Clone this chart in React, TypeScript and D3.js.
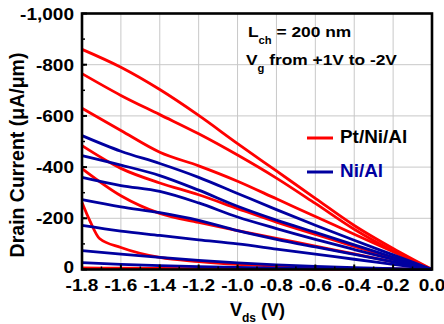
import React from "react";
import * as d3 from "d3";

// ---- data (drain current in µA/µm, Vds in V) ----
const vds = [-1.8, -1.6, -1.4, -1.2, -1.0, -0.8, -0.6, -0.4, -0.2, 0.0];

// Pt/Ni/Al (red), Vg from -2V (top) to +1V (bottom)
const ptVgM2 = [-860, -790, -703, -602, -492, -385, -278, -172, -82, 0];
const ptVgM15 = [-765, -680, -605, -530, -447, -357, -258, -157, -72, 0];
const ptVgM1 = [-630, -543, -458, -405, -345, -276, -207, -138, -69, 0];
const ptVgM05 = [-484, -395, -338, -292, -238, -185, -137, -90, -45, 0];
const ptVg0 = [-394, -288, -219, -184, -152, -122, -91, -61, -30, 0];
const ptVgP05Vds = [-1.8, -1.76, -1.71, -1.6, -1.4, -1.2, -1.0, -0.8, -0.6, -0.4, -0.2, 0.0];
const ptVgP05 = [-262, -191, -121, -86, -47, -31, -20, -13, -8, -4, -2, 0];
const ptVgP1 = [-6, -5, -4, -3, -2, -1.5, -1, -0.5, -0.3, -0.1, 0, 0];

// Ni/Al (blue)
const niVgM2 = [-523, -462, -414, -360, -297, -234, -173, -114, -57, 0];
const niVgM15 = [-445, -408, -367, -310, -247, -193, -145, -96, -48, 0];
const niVgM1 = [-360, -328, -305, -260, -205, -160, -118, -78, -39, 0];
const niVgM05 = [-273, -245, -222, -192, -152, -118, -88, -59, -30, 0];
const niVg0 = [-172, -150, -133, -116, -100, -80, -60, -40, -20, 0];
const niVgP05 = [-74, -60, -47, -36, -26, -18, -12, -7, -3, 0];
const niVgP1 = [-27, -20, -15, -11, -8, -5, -3, -2, -1, 0];

const xTicks = [-1.8, -1.6, -1.4, -1.2, -1.0, -0.8, -0.6, -0.4, -0.2, 0.0];
const xTickLabels = ["-1.8", "-1.6", "-1.4", "-1.2", "-1.0", "-0.8", "-0.6", "-0.4", "-0.2", "0.0"];
const yTicks = [-1000, -800, -600, -400, -200, 0];
const yTickLabels = ["-1,000", "-800", "-600", "-400", "-200", "0"];

const legendNames = ["Pt/Ni/Al", "Ni/Al"];

const RED = "#ff0000";
const BLUE = "#0000a0";
const FONT = "'Liberation Sans', Arial, Helvetica, sans-serif";

function SText(props: any) {
  const { x, y, sx = 1.12, anchor = "start", size = 17, fill = "#000", children } = props;
  return (
    <text
      transform={`translate(${x},${y}) scale(${sx},1)`}
      textAnchor={anchor}
      fontSize={size}
      fontWeight="bold"
      fontFamily={FONT}
      fill={fill}
    >
      {children}
    </text>
  );
}

export default function App() {
  const L = 82, R = 432, T = 13.5, B = 269.5;
  const x = d3.scaleLinear().domain([-1.8, 0]).range([L, R]);
  const y = d3.scaleLinear().domain([-1000, 0]).range([T, B]);

  const line = (xs: number[], ys: number[]) =>
    d3
      .line<number>()
      .x((_, i) => x(xs[i]))
      .y((d) => y(d))
      .curve(d3.curveMonotoneX)(ys) || "";

  const redSeries: [number[], number[]][] = [
    [vds, ptVgM2],
    [vds, ptVgM15],
    [vds, ptVgM1],
    [vds, ptVgM05],
    [vds, ptVg0],
    [ptVgP05Vds, ptVgP05],
    [vds, ptVgP1],
  ];
  const blueSeries: [number[], number[]][] = [
    [vds, niVgM2],
    [vds, niVgM15],
    [vds, niVgM1],
    [vds, niVgM05],
    [vds, niVg0],
    [vds, niVgP05],
    [vds, niVgP1],
  ];

  const xGrid = d3.range(-1.6, -0.01, 0.2);
  const yGrid = [-800, -600, -400, -200];
  const yMinor = d3.range(-900, 0, 100);
  const xMinor = d3.range(-1.7, 0, 0.1);

  return (
    <svg
      width={444}
      height={324}
      style={{ position: "absolute", left: 0, top: 0, background: "#fff" }}
    >
      <rect x={0} y={0} width={444} height={324} fill="#fff" />
      {/* grid */}
      {xGrid.map((v, i) => (
        <line key={"gx" + i} x1={x(v)} x2={x(v)} y1={T} y2={B} stroke="#c8c8c8" strokeWidth={1} />
      ))}
      {yGrid.map((v, i) => (
        <line key={"gy" + i} x1={L} x2={R} y1={y(v)} y2={y(v)} stroke="#c8c8c8" strokeWidth={1} />
      ))}

      {redSeries.map(([xs, ys], i) => (
        <path key={"r" + i} d={line(xs, ys)} fill="none" stroke={RED} strokeWidth={2.8} />
      ))}
      {blueSeries.map(([xs, ys], i) => (
        <path key={"b" + i} d={line(xs, ys)} fill="none" stroke={BLUE} strokeWidth={2.8} />
      ))}

      {/* ticks */}
      {yTicks.map((v, i) => (
        <line key={"yt" + i} x1={L} x2={L + 5} y1={y(v)} y2={y(v)} stroke="#000" strokeWidth={2} />
      ))}
      {yMinor.map((v, i) => (
        <line key={"ym" + i} x1={L} x2={L + 3} y1={y(v)} y2={y(v)} stroke="#000" strokeWidth={1.5} />
      ))}
      {xTicks.map((v, i) => (
        <line key={"xt" + i} x1={x(v)} x2={x(v)} y1={B} y2={B - 5} stroke="#000" strokeWidth={2} />
      ))}
      {xMinor.map((v, i) => (
        <line key={"xm" + i} x1={x(v)} x2={x(v)} y1={B} y2={B - 3} stroke="#000" strokeWidth={1.5} />
      ))}

      {/* frame */}
      <rect x={L} y={T} width={R - L} height={B - T} fill="none" stroke="#000" strokeWidth={2.6} />

      {/* tick labels */}
      {yTicks.map((v, i) => (
        <SText key={"yl" + i} x={74} y={y(v) + (v === 0 ? 3.5 : 6)} anchor="end">
          {yTickLabels[i]}
        </SText>
      ))}
      {xTicks.map((v, i) => (
        <SText key={"xl" + i} x={x(v)} y={291} anchor="middle">
          {xTickLabels[i]}
        </SText>
      ))}

      {/* axis titles */}
      <text
        transform={`translate(24,155) rotate(-90)`}
        textAnchor="middle"
        fontSize={19.5}
        fontWeight="bold"
        fontFamily={FONT}
      >
        Drain Current (μA/μm)
      </text>
      <text x={230} y={316} fontSize={18} fontWeight="bold" fontFamily={FONT}>
        V
        <tspan fontSize={12} dy={6}>ds</tspan>
        <tspan fontSize={18} dy={-6}> (V)</tspan>
      </text>

      {/* annotation */}
      <SText x={248} y={37} size={15.5} sx={1.12}>
        L<tspan fontSize={10} dy={7}>ch</tspan>
        <tspan fontSize={15.5} dy={-7}> = 200 nm</tspan>
      </SText>
      <SText x={246} y={65} size={15.5} sx={1.12}>
        V<tspan fontSize={10} dy={7}>g</tspan>
        <tspan fontSize={15.5} dy={-7}> from +1V to -2V</tspan>
      </SText>

      {/* legend */}
      <line x1={307} x2={333} y1={138} y2={138} stroke={RED} strokeWidth={3} />
      <SText x={340} y={143} size={17.5} sx={1.08}>{legendNames[0]}</SText>
      <line x1={307} x2={333} y1={172} y2={172} stroke={BLUE} strokeWidth={3} />
      <SText x={340} y={177} size={17.5} sx={1.08} fill={BLUE}>{legendNames[1]}</SText>
    </svg>
  );
}
